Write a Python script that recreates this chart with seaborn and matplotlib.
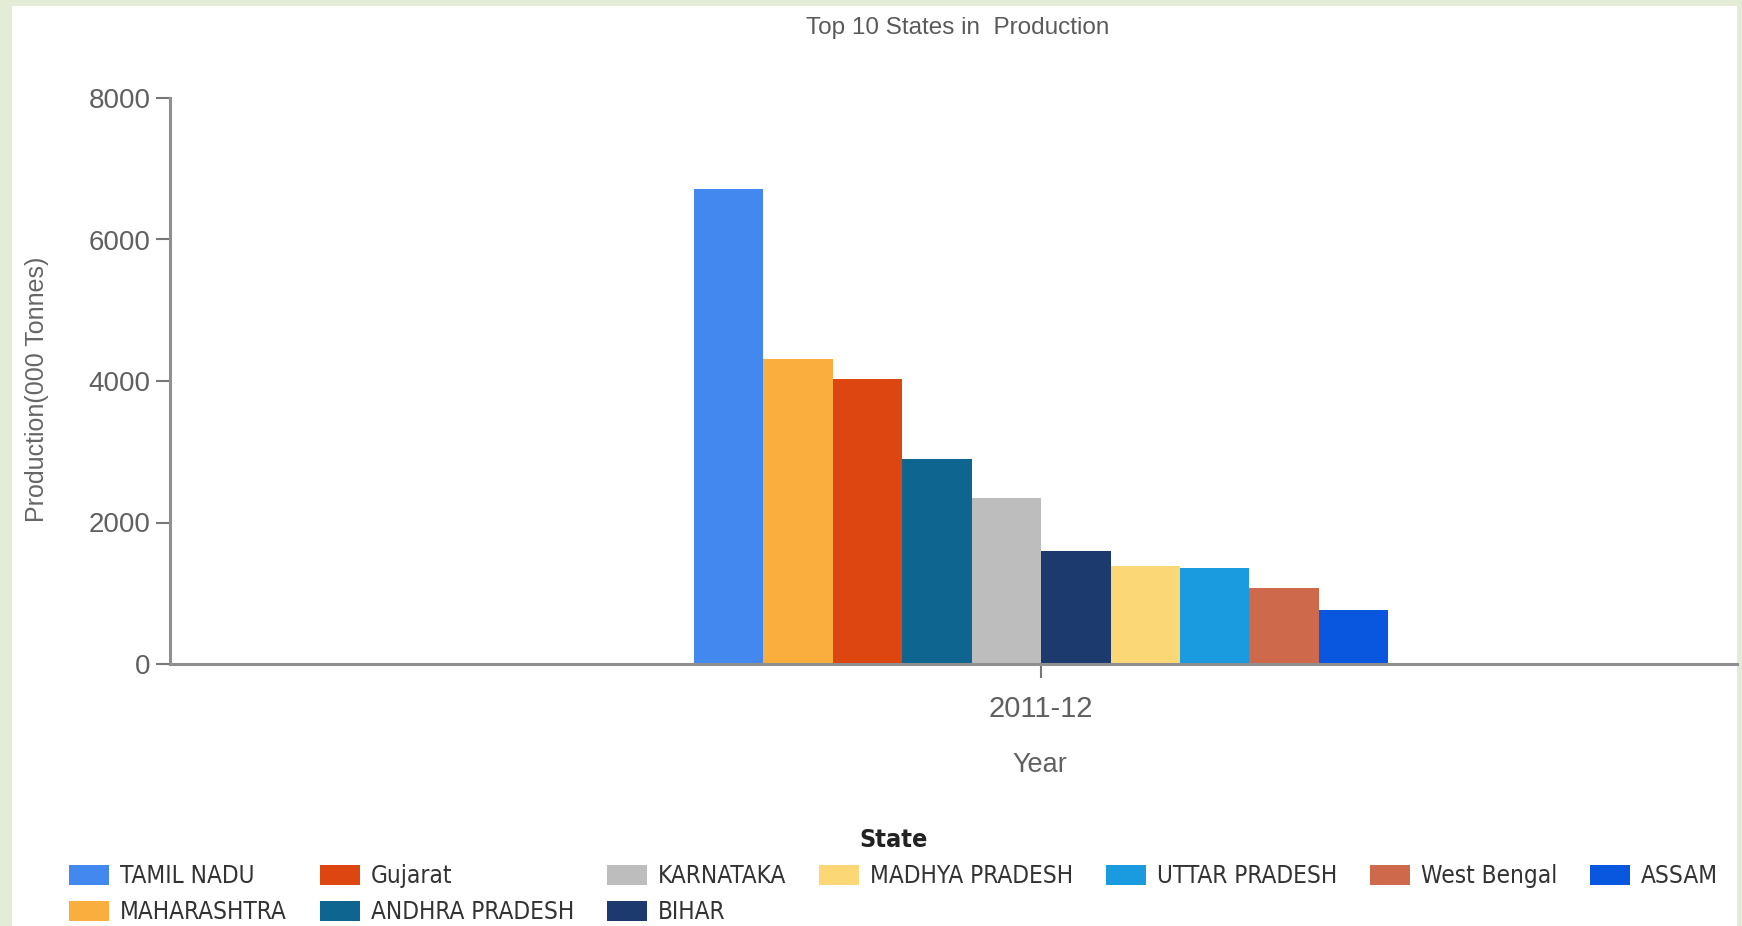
import matplotlib
matplotlib.use("Agg")
import matplotlib.pyplot as plt
import matplotlib.patches as mpatches
import numpy as np
import pandas as pd
import seaborn as sns

# data
states = ["TAMIL NADU", "MAHARASHTRA", "Gujarat", "ANDHRA PRADESH", "KARNATAKA",
          "BIHAR", "MADHYA PRADESH", "UTTAR PRADESH", "West Bengal", "ASSAM"]
production = [6720, 4310, 4030, 2900, 2350, 1600, 1380, 1350, 1080, 770]
year = ["2011-12"] * len(states)
colors = ["#4288ef", "#f9ae3d", "#dd4511", "#0e6690", "#bdbdbd",
          "#1c3a6d", "#fbd776", "#1a9be0", "#cf694c", "#0a57df"]

df = pd.DataFrame({"Year": year, "State": states, "Production": production})

sns.set_style("white")
plt.rcParams["font.family"] = ["Liberation Sans", "DejaVu Sans"]

fig = plt.figure(figsize=(17.42, 9.26), dpi=100)
fig.set_facecolor("#e4ecd8")
# white slide area inside the pale green border
fig.patches.append(mpatches.Rectangle((12 / 1742, 0), (1737 - 12) / 1742, 920 / 926,
                                      transform=fig.transFigure, facecolor="white",
                                      edgecolor="none", zorder=-10))

ax = fig.add_axes([170 / 1742, 262 / 926, 1567 / 1742, 566 / 926])
ax.set_facecolor("none")
sns.barplot(data=df, x="Year", y="Production", hue="State", hue_order=states,
            palette=dict(zip(states, colors)), width=0.8, saturation=1,
            linewidth=0, ax=ax, legend=True)

ax.set_ylim(0, 8000)
ax.set_xlim(-1.004, 0.802)
ax.set_yticks([0, 2000, 4000, 6000, 8000])
sns.despine(ax=ax)
for s in ["left", "bottom"]:
    ax.spines[s].set_color("#8f8f8f")
    ax.spines[s].set_linewidth(2.2)
ax.tick_params(axis="both", which="both", direction="out", length=10, width=1.5,
               color="#777777", labelcolor="#606060", left=True, bottom=True)
ax.tick_params(axis="y", labelsize=20, pad=4)
ax.tick_params(axis="x", labelsize=21, pad=12)

ax.set_xlabel("Year", fontsize=19.5, color="#606060")
ax.set_ylabel("Production(000 Tonnes)", fontsize=18, color="#666666")
ax.xaxis.set_label_coords((1040 - 170) / 1567, -0.155)
ax.yaxis.set_label_coords(-0.077, 0.485)

fig.text(958 / 1742, 1 - 28 / 926, "Top 10 States in  Production", ha="center",
         va="center", fontsize=17.5, color="#5a5a5a")

handles, labels = ax.get_legend_handles_labels()
ax.get_legend().remove()
leg_font = {"family": "DejaVu Sans", "stretch": "condensed", "size": 17.5}
leg = fig.legend(handles, labels, ncol=7, loc="upper left",
                 bbox_to_anchor=(57 / 1742, 1 - 816 / 926), frameon=False,
                 title="State", handlelength=1.65, handleheight=0.9,
                 handletextpad=0.45, columnspacing=1.35, labelspacing=0.5,
                 borderpad=0, prop=leg_font,
                 title_fontproperties=dict(leg_font, weight="bold", size=18))
for t in leg.get_texts():
    t.set_color("#333333")
leg.get_title().set_color("#222222")

fig.savefig("out.png", dpi=100, facecolor=fig.get_facecolor())
